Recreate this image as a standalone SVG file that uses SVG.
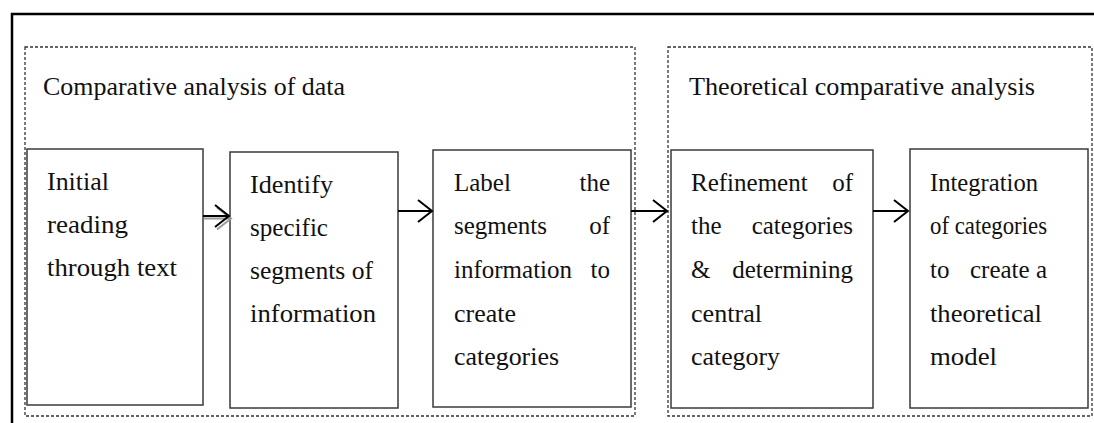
<svg xmlns="http://www.w3.org/2000/svg" width="1094" height="423" viewBox="0 0 1094 423">
<style>
.frame{fill:none;stroke:#000;stroke-width:2.5}
.group{fill:none;stroke:#333;stroke-width:1.3;stroke-dasharray:3 2}
.box{fill:#fff;stroke:#3a3a3a;stroke-width:1.5}
.t{font-family:"Liberation Serif","Times New Roman",serif;font-size:25px;fill:#111}
.title{font-family:"Liberation Serif","Times New Roman",serif;font-size:25px;fill:#111}
.conn{fill:none;stroke:#000;stroke-width:2}
.shadow{fill:none;stroke:#999;stroke-width:2}
</style>
<defs>
<marker id="chev" markerUnits="userSpaceOnUse" markerWidth="18" markerHeight="26" refX="14" refY="11" orient="auto" overflow="visible">
<path d="M0,0 L14,11 L0,22" fill="none" stroke="#000" stroke-width="2"/>
</marker>
<marker id="chevg" markerUnits="userSpaceOnUse" markerWidth="18" markerHeight="26" refX="14" refY="11" orient="auto" overflow="visible">
<path d="M0,0 L14,11 L0,22" fill="none" stroke="#999" stroke-width="2"/>
</marker>
</defs>
<rect width="1094" height="423" fill="#fff"/>
<path class="frame" d="M12,423 V14 H1094"/>

<g id="group-data">
<rect class="group" x="25" y="47" width="610" height="369"/>
<text class="title" x="43" y="95" textLength="302" lengthAdjust="spacingAndGlyphs">Comparative analysis of data</text>
</g>
<g id="group-theory">
<rect class="group" x="668" y="47" width="424" height="369"/>
<text class="title" x="689" y="95" textLength="346" lengthAdjust="spacingAndGlyphs">Theoretical comparative analysis</text>
</g>

<g id="node1">
<rect class="box" x="27" y="149" width="176" height="256"/>
<text class="t" x="47" y="190" textLength="62" lengthAdjust="spacingAndGlyphs">Initial</text>
<text class="t" x="47" y="233" textLength="81" lengthAdjust="spacingAndGlyphs">reading</text>
<text class="t" x="47" y="276" textLength="130" lengthAdjust="spacingAndGlyphs">through text</text>
</g>

<g id="node2">
<rect class="box" x="230" y="152" width="168" height="256"/>
<text class="t" x="250" y="193" textLength="83" lengthAdjust="spacingAndGlyphs">Identify</text>
<text class="t" x="250" y="236" textLength="78" lengthAdjust="spacingAndGlyphs">specific</text>
<text class="t" x="250" y="279" textLength="123" lengthAdjust="spacingAndGlyphs">segments of</text>
<text class="t" x="250" y="322" textLength="126" lengthAdjust="spacingAndGlyphs">information</text>
</g>

<g id="node3">
<rect class="box" x="433" y="150" width="198" height="257"/>
<text class="t" x="454" y="191">Label</text>
<text class="t" x="610" y="191" text-anchor="end">the</text>
<text class="t" x="454" y="234">segments</text>
<text class="t" x="610" y="234" text-anchor="end">of</text>
<text class="t" x="454" y="278">information</text>
<text class="t" x="610" y="278" text-anchor="end">to</text>
<text class="t" x="454" y="322" textLength="62" lengthAdjust="spacingAndGlyphs">create</text>
<text class="t" x="454" y="365" textLength="105" lengthAdjust="spacingAndGlyphs">categories</text>
</g>

<g id="node4">
<rect class="box" x="671" y="150" width="202" height="258"/>
<text class="t" x="691" y="191">Refinement</text>
<text class="t" x="853" y="191" text-anchor="end">of</text>
<text class="t" x="691" y="234">the</text>
<text class="t" x="853" y="234" text-anchor="end">categories</text>
<text class="t" x="691" y="278">&amp;</text>
<text class="t" x="853" y="278" text-anchor="end">determining</text>
<text class="t" x="691" y="322" textLength="71" lengthAdjust="spacingAndGlyphs">central</text>
<text class="t" x="691" y="365" textLength="89" lengthAdjust="spacingAndGlyphs">category</text>
</g>

<g id="node5">
<rect class="box" x="910" y="149" width="178" height="259"/>
<text class="t" x="930" y="191" textLength="108" lengthAdjust="spacingAndGlyphs">Integration</text>
<text class="t" x="930" y="234" textLength="117" lengthAdjust="spacingAndGlyphs">of categories</text>
<text class="t" x="930" y="278">to</text>
<text class="t" x="970" y="278">create</text>
<text class="t" x="1047" y="278" text-anchor="end">a</text>
<text class="t" x="930" y="322" textLength="112" lengthAdjust="spacingAndGlyphs">theoretical</text>
<text class="t" x="930" y="365" textLength="67" lengthAdjust="spacingAndGlyphs">model</text>
</g>

<g id="connectors">
<path class="shadow" d="M204,218.5 H231" marker-end="url(#chevg)"/>
<path class="conn" d="M203,216 H229" marker-end="url(#chev)"/>
<path class="conn" d="M398,211 H432" marker-end="url(#chev)"/>
<path class="conn" d="M631,211 H667" marker-end="url(#chev)"/>
<path class="conn" d="M873,211 H908" marker-end="url(#chev)"/>
</g>
</svg>
